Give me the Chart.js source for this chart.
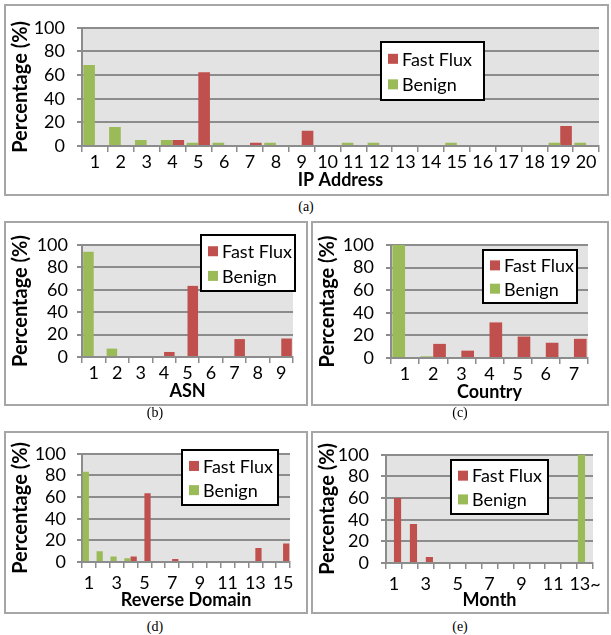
<!DOCTYPE html>
<html>
<head>
<meta charset="utf-8">
<script src="https://cdn.jsdelivr.net/npm/chart.js@4"></script>
<style>
  body { margin: 0; background: #fff; width: 611px; height: 635px; position: relative; overflow: hidden; }
  canvas { position: absolute; }
  .frame { position: absolute; border: 2px solid #a6a6a6; box-sizing: border-box; pointer-events: none; }
  .cap { position: absolute; font-family: "Liberation Serif", serif; font-size: 14px; transform: translate(-50%, -50%); }
</style>
</head>
<body>
<canvas id="chartA" width="603" height="190" style="left:5px;top:5px"></canvas>
<canvas id="chartB" width="302" height="183" style="left:5px;top:222px"></canvas>
<canvas id="chartC" width="296" height="183" style="left:312px;top:222px"></canvas>
<canvas id="chartD" width="302" height="181" style="left:5px;top:432px"></canvas>
<canvas id="chartE" width="296" height="181" style="left:312px;top:432px"></canvas>

<div class="frame" style="left:4px;top:4px;width:605px;height:192px"></div>
<div class="frame" style="left:4px;top:221px;width:304px;height:185px"></div>
<div class="frame" style="left:311px;top:221px;width:298px;height:185px"></div>
<div class="frame" style="left:4px;top:431px;width:304px;height:183px"></div>
<div class="frame" style="left:311px;top:431px;width:298px;height:183px"></div>

<div class="cap" style="left:306px;top:207px">(a)</div>
<div class="cap" style="left:155px;top:413px">(b)</div>
<div class="cap" style="left:460px;top:413px">(c)</div>
<div class="cap" style="left:155px;top:627px">(d)</div>
<div class="cap" style="left:460px;top:627px">(e)</div>

<script>
// (a) IP Address
let ipLabels = ["1","2","3","4","5","6","7","8","9","10","11","12","13","14","15","16","17","18","19","20"];
let ipBenign = [68.5, 16, 5, 5, 2.7, 2.7, 0, 2.7, 0, 0, 2.7, 2.7, 0, 0, 2.7, 0, 0, 0, 2.7, 2.7];
let ipFast   = [0, 0, 0, 5, 62.5, 0, 2.7, 0, 13, 0, 0, 0, 0, 0, 0, 0, 0, 0, 17, 0];

// (b) ASN
let asnLabels = ["1","2","3","4","5","6","7","8","9"];
let asnBenign = [94, 7.5, 0, 0, 0, 0, 0, 0, 0];
let asnFast   = [0, 0, 0, 4.5, 63.5, 0, 16, 0, 16.5];

// (c) Country
let countryLabels = ["1","2","3","4","5","6","7"];
let countryBenign = [100, 1.5, 0, 0, 0, 0, 0];
let countryFast   = [0, 12.5, 6.5, 31.5, 19, 13.5, 17];

// (d) Reverse Domain
let rdLabels = ["1","2","3","4","5","6","7","8","9","10","11","12","13","14","15"];
let rdBenign = [83.5, 10, 5, 3.5, 0, 0, 0, 0, 0, 0, 0, 0, 0, 0, 0];
let rdFast   = [0, 0, 0, 5, 63.5, 0, 2.7, 0, 0, 0, 0, 0, 13, 0, 17];

// (e) Month
let monthLabels = ["1","2","3","4","5","6","7","8","9","10","11","12","13~"];
let monthBenign = [0, 0, 0, 0, 0, 0, 0, 0, 0, 0, 0, 0, 100];
let monthFast   = [60, 36, 5.5, 0, 0, 0, 0, 0, 0, 0, 0, 0, 0];

let yTicks = [0, 20, 40, 60, 80, 100];

const RED = "#C0504D";
const GREEN = "#9BBB59";
const GRID = "#8c8c8c";
const FONT = "Lato, 'Open Sans', sans-serif";

const plotBg = {
    id: "plotBg",
    beforeDraw(chart) {
        const { ctx, chartArea: a } = chart;
        ctx.save();
        ctx.fillStyle = "#e3e3e3";
        ctx.fillRect(a.left, a.top, a.width, a.height);
        ctx.restore();
    }
};

// legend drawn as a boxed panel inside the plot, Fast Flux first
const boxLegend = {
    id: "boxLegend",
    afterDraw(chart, args, opts) {
        const ctx = chart.ctx;
        const { x, y, w, h } = opts;
        ctx.save();
        ctx.fillStyle = "#fff";
        ctx.fillRect(x, y, w, h);
        ctx.lineWidth = 2;
        ctx.strokeStyle = "#000";
        ctx.strokeRect(x, y, w, h);
        ctx.font = "18px " + FONT;
        ctx.textBaseline = "middle";
        chart.data.datasets.slice().reverse().forEach((ds, i) => {
            let cy = y + h * (i ? 0.73 : 0.29);
            ctx.fillStyle = ds.backgroundColor;
            ctx.fillRect(x + 7, cy - 5, 10, 10);
            ctx.fillStyle = "#000";
            ctx.fillText(ds.label, x + 21, cy + 1);
        });
        ctx.restore();
    }
};

function makeChart(id, labels, benign, fast, xTitle, s) {
    let ctx = document.getElementById(id).getContext("2d");
    return new Chart(ctx, {
        type: "bar",
        data: {
            labels: labels,
            datasets: [
                { label: "Benign", data: benign, backgroundColor: GREEN },
                { label: "Fast Flux", data: fast, backgroundColor: RED }
            ]
        },
        options: {
            responsive: false,
            animation: false,
            events: [],
            categoryPercentage: 0.9,
            barPercentage: 1.0,
            layout: { padding: { left: 0, top: s.top, right: s.right, bottom: 0 } },
            plugins: {
                legend: { display: false },
                tooltip: { enabled: false },
                boxLegend: s.legend
            },
            scales: {
                x: {
                    afterFit: (sc) => { sc.height = s.xh; },
                    grid: { drawOnChartArea: false, drawTicks: true, tickLength: 6, color: GRID, lineWidth: 1.5 },
                    border: { display: true, color: GRID, width: 2 },
                    ticks: {
                        color: "#000", padding: s.xpad, maxRotation: 0, autoSkip: false,
                        font: { family: FONT, size: 18 },
                        callback: function (v, i) {
                            return (s.every && i % s.every) ? "" : this.getLabelForValue(v);
                        }
                    },
                    title: { display: true, text: xTitle, color: "#000", padding: { top: 0, bottom: s.tpad },
                             font: { family: FONT, size: 18, weight: "bold" } }
                },
                y: {
                    min: 0, max: 100,
                    afterFit: (sc) => { sc.width = s.yw; },
                    afterBuildTicks: (sc) => { sc.ticks = yTicks.map(v => ({ value: v })); },
                    grid: { color: GRID, lineWidth: 2, tickLength: 5 },
                    border: { display: true, color: GRID, width: 2 },
                    ticks: { color: "#000", padding: s.ypad, autoSkip: false, font: { family: FONT, size: 18 } },
                    title: { display: true, text: "Percentage (%)", color: "#000", padding: { top: 4, bottom: 0 },
                             font: { family: FONT, size: 20, weight: "bold" } }
                }
            }
        },
        plugins: [plotBg, boxLegend]
    });
}

makeChart("chartA", ipLabels, ipBenign, ipFast, "IP Address",
    { top: 20, right: 9, yw: 77, xh: 49, xpad: -1, tpad: 4, ypad: 12,
      legend: { x: 376, y: 37, w: 103, h: 58 } });

makeChart("chartB", asnLabels, asnBenign, asnFast, "ASN",
    { top: 23, right: 14, yw: 77, xh: 48, xpad: -1, tpad: 3, ypad: 9,
      legend: { x: 196, y: 13, w: 94, h: 56 } });

makeChart("chartC", countryLabels, countryBenign, countryFast, "Country",
    { top: 23, right: 20, yw: 79, xh: 47, xpad: -1, tpad: 2, ypad: 12,
      legend: { x: 171, y: 28, w: 94, h: 53 } });

makeChart("chartD", rdLabels, rdBenign, rdFast, "Reverse Domain",
    { top: 16, right: 17, yw: 77, xh: 51, xpad: 4, tpad: 2, ypad: 11, every: 2,
      legend: { x: 177, y: 18, w: 96, h: 55 } });

makeChart("chartE", monthLabels, monthBenign, monthFast, "Month",
    { top: 16, right: 15, yw: 74, xh: 50, xpad: 4, tpad: 2, ypad: 12, every: 2,
      legend: { x: 139, y: 28, w: 97, h: 54 } });
</script>
</body>
</html>
